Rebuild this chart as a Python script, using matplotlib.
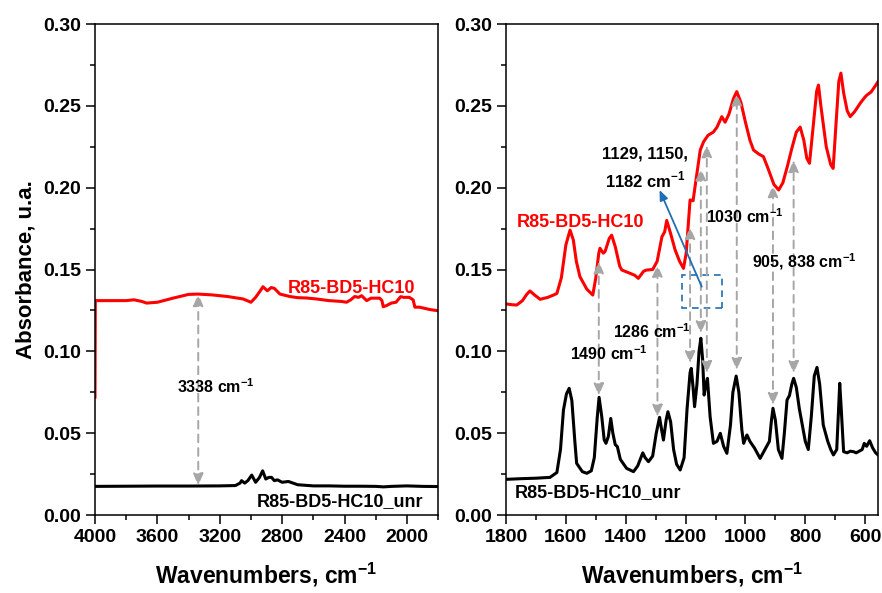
"""FTIR absorbance spectra: R85-BD5-HC10 vs R85-BD5-HC10_unr, two wavenumber windows."""
import matplotlib
matplotlib.use("Agg")
import matplotlib.pyplot as plt
from matplotlib.patches import Rectangle
from matplotlib.ticker import MultipleLocator

plt.rcParams["font.family"] = ["Liberation Sans", "DejaVu Sans"]
plt.rcParams["font.weight"] = "bold"
plt.rcParams["mathtext.fontset"] = "custom"
plt.rcParams["mathtext.rm"] = "Liberation Sans:bold"
plt.rcParams["mathtext.bf"] = "Liberation Sans:bold"

RED, BLACK, GREY, BLUE = "#FF0000", "#000000", "#A6A6A6", "#1F6FB2"
CM = r"cm$^{-1}$"

# ---- high-wavenumber window (4000-1800) ----
hi_wn_red = [4000, 3998, 3900, 3800, 3750, 3700, 3669, 3600, 3500, 3400, 3340,
             3250, 3150, 3050, 3000, 2970, 2940, 2923, 2895, 2870, 2850, 2814,
             2750, 2700, 2643, 2580, 2500, 2420, 2387, 2360, 2335, 2310, 2290,
             2258, 2230, 2200, 2175, 2160, 2152, 2130, 2100, 2070, 2040, 2020,
             1985, 1960, 1949, 1920, 1897, 1850, 1800]
hi_abs_red = [0.072, 0.131, 0.131, 0.131, 0.1315, 0.1305, 0.1295, 0.130, 0.1325,
              0.1348, 0.135, 0.1345, 0.1335, 0.132, 0.130, 0.133, 0.137, 0.1395,
              0.137, 0.139, 0.1385, 0.135, 0.1335, 0.1328, 0.1326, 0.132, 0.131,
              0.1305, 0.130, 0.1315, 0.1335, 0.133, 0.134, 0.131, 0.1325, 0.1325,
              0.1325, 0.131, 0.1273, 0.128, 0.1295, 0.130, 0.1334, 0.133, 0.133,
              0.1315, 0.127, 0.127, 0.1265, 0.1255, 0.1248]

hi_wn_blk = [4000, 3800, 3600, 3400, 3200, 3100, 3070, 3060, 3040, 3020, 2995,
             2970, 2945, 2925, 2905, 2885, 2868, 2850, 2830, 2800, 2760, 2700,
             2600, 2500, 2400, 2300, 2200, 2150, 2100, 2000, 1900, 1800]
hi_abs_blk = [0.0175, 0.0176, 0.0177, 0.0177, 0.0178, 0.018, 0.0195, 0.021, 0.0195,
              0.021, 0.0244, 0.020, 0.023, 0.027, 0.022, 0.023, 0.023, 0.021,
              0.0215, 0.020, 0.0205, 0.0185, 0.0178, 0.0178, 0.0176, 0.0176,
              0.0175, 0.0172, 0.0175, 0.0178, 0.0175, 0.0174]

# ---- fingerprint window (1800-557) ----
lo_wn_red = [1800, 1780, 1764, 1745, 1730, 1720, 1705, 1686, 1660, 1640, 1630,
             1615, 1600, 1586, 1575, 1565, 1553, 1530, 1510, 1500, 1490, 1486,
             1475, 1469, 1455, 1447, 1435, 1420, 1413, 1390, 1370, 1358, 1340,
             1330, 1310, 1295, 1279, 1270, 1263, 1250, 1235, 1220, 1207, 1198,
             1190, 1185, 1175, 1165, 1151, 1140, 1125, 1107, 1095, 1079, 1068,
             1055, 1040, 1029, 1015, 1000, 985, 973, 955, 940, 925, 905, 889,
             875, 860, 845, 830, 817, 805, 795, 786, 775, 762, 756, 748, 730,
             715, 707, 697, 688, 681, 672, 660, 650, 635, 615, 600, 594, 580,
             565, 557]
lo_abs_red = [0.129, 0.1285, 0.1283, 0.131, 0.135, 0.1369, 0.1345, 0.1318, 0.133,
              0.1345, 0.1354, 0.145, 0.165, 0.1741, 0.168, 0.155, 0.1456, 0.138,
              0.1344, 0.145, 0.160, 0.163, 0.160, 0.161, 0.169, 0.171, 0.164,
              0.152, 0.1497, 0.148, 0.1465, 0.1446, 0.149, 0.1497, 0.150, 0.155,
              0.170, 0.173, 0.180, 0.172, 0.162, 0.155, 0.1507, 0.160, 0.180,
              0.1925, 0.192, 0.205, 0.223, 0.228, 0.232, 0.234, 0.237, 0.2434,
              0.240, 0.245, 0.2545, 0.2587, 0.252, 0.240, 0.229, 0.223, 0.2205,
              0.219, 0.212, 0.202, 0.1986, 0.203, 0.213, 0.224, 0.234, 0.237,
              0.229, 0.218, 0.2149, 0.235, 0.259, 0.2627, 0.250, 0.225, 0.214,
              0.2118, 0.240, 0.265, 0.270, 0.258, 0.247, 0.2434, 0.2465, 0.252,
              0.2555, 0.2566, 0.2585, 0.2625, 0.2648]

lo_wn_blk = [1800, 1750, 1700, 1653, 1630, 1618, 1608, 1598, 1589, 1580, 1570,
             1564, 1545, 1530, 1515, 1505, 1495, 1489, 1480, 1472, 1466, 1458,
             1450, 1443, 1435, 1428, 1418, 1397, 1374, 1360, 1343, 1335, 1324,
             1310, 1298, 1287, 1280, 1274, 1265, 1259, 1250, 1240, 1230, 1218,
             1205, 1195, 1185, 1181, 1175, 1170, 1162, 1155, 1149, 1143, 1138,
             1132, 1127, 1118, 1107, 1095, 1084, 1073, 1062, 1050, 1042, 1031,
             1022, 1012, 1006, 995, 985, 970, 951, 935, 920, 913, 908, 900, 890,
             878, 870, 861, 853, 845, 839, 830, 820, 811, 800, 790, 780, 770,
             761, 752, 740, 725, 715, 706, 695, 690, 685, 680, 672, 660, 650,
             639, 630, 620, 610, 603, 595, 585, 575, 565, 557]
lo_abs_blk = [0.0218, 0.0222, 0.0225, 0.023, 0.026, 0.040, 0.0642, 0.074, 0.0774,
              0.070, 0.045, 0.0316, 0.0265, 0.0255, 0.027, 0.035, 0.060, 0.0719,
              0.060, 0.046, 0.0438, 0.048, 0.059, 0.050, 0.043, 0.0418, 0.034,
              0.0285, 0.0265, 0.030, 0.038, 0.035, 0.0326, 0.036, 0.050, 0.0597,
              0.052, 0.0458, 0.058, 0.0631, 0.057, 0.040, 0.031, 0.0275, 0.035,
              0.065, 0.087, 0.0896, 0.078, 0.0662, 0.080, 0.100, 0.108, 0.095,
              0.0733, 0.080, 0.0835, 0.060, 0.0438, 0.045, 0.0499, 0.042, 0.0377,
              0.055, 0.075, 0.0849, 0.075, 0.052, 0.0438, 0.0489, 0.045, 0.041,
              0.0346, 0.040, 0.045, 0.058, 0.0652, 0.058, 0.040, 0.0346, 0.050,
              0.0703, 0.073, 0.080, 0.0835, 0.078, 0.065, 0.056, 0.045, 0.040,
              0.060, 0.085, 0.0902, 0.080, 0.055, 0.045, 0.040, 0.0367, 0.040,
              0.060, 0.0805, 0.065, 0.0387, 0.038, 0.039, 0.0387, 0.038, 0.039,
              0.040, 0.0438, 0.042, 0.0454, 0.041, 0.038, 0.0367]

# band markers: (wavenumber, top on red, bottom on black)
hi_bands = [(3338, 0.135, 0.018)]
lo_bands = [(1490, 0.155, 0.073), (1294, 0.153, 0.060), (1185, 0.176, 0.0927),
            (1149, 0.2118, 0.111), (1129, 0.226, 0.0866), (1029, 0.2576, 0.0886),
            (908, 0.2016, 0.0672), (839, 0.2169, 0.0866)]


def style_axis(ax, xlim, xmajor):
    ax.set_xlim(*xlim)
    ax.set_ylim(0, 0.30)
    ax.xaxis.set_major_locator(MultipleLocator(xmajor))
    ax.xaxis.set_minor_locator(MultipleLocator(xmajor / 2))
    ax.yaxis.set_major_locator(MultipleLocator(0.05))
    ax.yaxis.set_minor_locator(MultipleLocator(0.025))
    ax.yaxis.set_major_formatter(plt.FormatStrFormatter("%.2f"))
    ax.tick_params(which="major", direction="out", length=6.5, width=1.1,
                   labelsize=14, top=False, right=False)
    ax.tick_params(which="minor", direction="out", length=3.6, width=1.1,
                   top=False, right=False)
    for sp in ax.spines.values():
        sp.set_linewidth(1.1)
    for lab in ax.get_xticklabels() + ax.get_yticklabels():
        lab.set_fontweight("bold")
    ax.set_xlabel("Wavenumbers, " + CM, fontsize=16.5, fontweight="bold",
                  labelpad=11)


def band_arrows(ax, bands):
    for wn, top, bot in bands:
        ax.annotate("", xy=(wn, top), xytext=(wn, bot),
                    arrowprops=dict(arrowstyle="<|-|>,head_length=0.7,head_width=0.3",
                                    color=GREY, lw=1.4, ls=(0, (4, 3)),
                                    shrinkA=0, shrinkB=0))


fig = plt.figure(figsize=(8.82, 5.93), dpi=100)
ax1 = fig.add_axes([0.1077, 0.1315, 0.389, 0.828])
ax2 = fig.add_axes([0.5737, 0.1315, 0.4218, 0.828])

# left panel
band_arrows(ax1, hi_bands)
ax1.plot(hi_wn_red, hi_abs_red, color=RED, lw=2.2)
ax1.plot(hi_wn_blk, hi_abs_blk, color=BLACK, lw=2.2)
style_axis(ax1, (4000, 1800), 400)
ax1.set_ylabel("Absorbance, u.a.", fontsize=16, fontweight="bold", labelpad=5)
ax1.text(1949, 0.1387, "R85-BD5-HC10", color=RED, fontsize=13,
         fontweight="bold", ha="right", va="center")
ax1.text(3224, 0.0784, "3338 " + CM, fontsize=11.5, fontweight="bold",
         ha="center", va="center")
ax1.text(1897, 0.0081, "R85-BD5-HC10_unr", fontsize=13, fontweight="bold",
         ha="right", va="center")

# right panel
band_arrows(ax2, lo_bands)
ax2.plot(lo_wn_red, lo_abs_red, color=RED, lw=2.2)
ax2.plot(lo_wn_blk, lo_abs_blk, color=BLACK, lw=2.2)
style_axis(ax2, (1800, 557), 200)
ax2.add_patch(Rectangle((1078, 0.1263), 134, 0.0203, fill=False,
                        edgecolor=BLUE, lw=1.2, ls=(0, (4, 3))))
ax2.annotate("", xy=(1287, 0.1986), xytext=(1146, 0.1395),
             arrowprops=dict(arrowstyle="-|>,head_length=0.6,head_width=0.25",
                             color=BLUE, lw=1.3, shrinkA=0, shrinkB=0))
ax2.text(1552, 0.179, "R85-BD5-HC10", color=RED, fontsize=13,
         fontweight="bold", ha="center", va="center")
ax2.text(1335, 0.2117, "1129, 1150,\n1182 " + CM, fontsize=12,
         fontweight="bold", ha="center", va="center", linespacing=1.5)
ax2.text(1001, 0.182, "1030 " + CM, fontsize=11.5, fontweight="bold",
         ha="center", va="center")
ax2.text(803, 0.155, "905, 838 " + CM, fontsize=11.5, fontweight="bold",
         ha="center", va="center")
ax2.text(1312, 0.112, "1286 " + CM, fontsize=11.5, fontweight="bold",
         ha="center", va="center")
ax2.text(1455, 0.0988, "1490 " + CM, fontsize=11.5, fontweight="bold",
         ha="center", va="center")
ax2.text(1770, 0.0136, "R85-BD5-HC10_unr", fontsize=13, fontweight="bold",
         ha="left", va="center")

fig.savefig("out.png", dpi=100)
